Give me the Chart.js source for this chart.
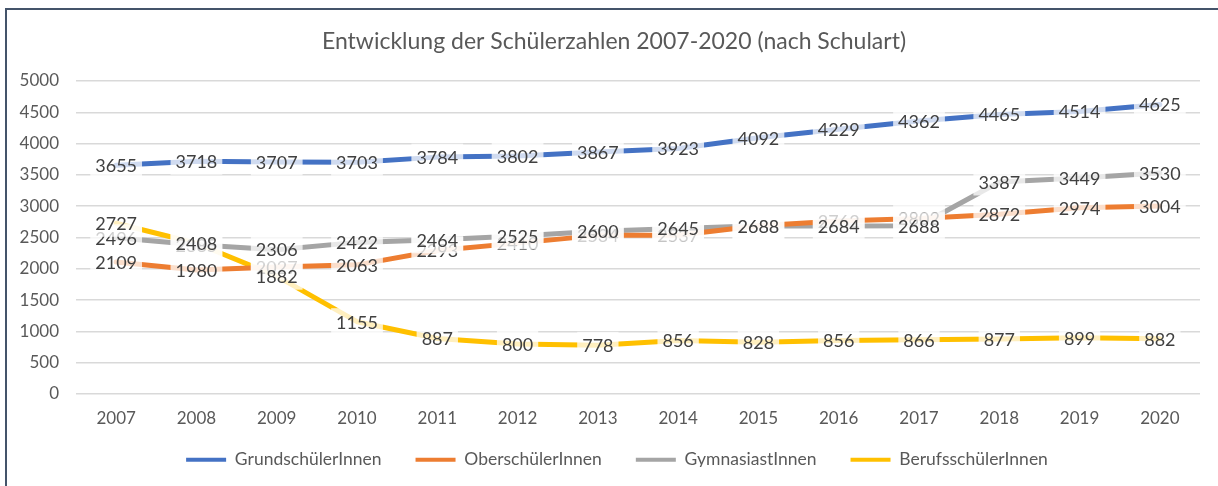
<!DOCTYPE html>
<html><head><meta charset="utf-8">
<script src="https://cdn.jsdelivr.net/npm/chart.js@4.4.1/dist/chart.umd.min.js"></script>
<style>
html,body{margin:0;padding:0;background:#fff;overflow:hidden}
#wrap{position:absolute;left:0;top:0;width:1218px;height:486px}
#frame{position:absolute;left:5px;top:8px;width:1400px;height:700px;border-left:2px solid #44546A;border-top:2px solid #44546A;pointer-events:none}
</style></head>
<body>
<div id="wrap"><canvas id="c" width="1218" height="486"></canvas></div>
<div id="frame"></div>
<script>
const years = ['2007','2008','2009','2010','2011','2012','2013','2014','2015','2016','2017','2018','2019','2020'];
const grundschueler = [3655,3718,3707,3703,3784,3802,3867,3923,4092,4229,4362,4465,4514,4625];
const oberschueler = [2109,1980,2027,2063,2293,2410,2534,2537,2688,2762,2802,2872,2974,3004];
const gymnasiasten = [2496,2385,2306,2422,2464,2525,2600,2645,2688,2684,2688,3387,3449,3530];
const berufsschueler = [2727,2408,1882,1155,887,800,778,856,828,856,866,877,899,882];
const seriesNames = ['GrundschülerInnen','OberschülerInnen','GymnasiastInnen','BerufsschülerInnen'];
const seriesColors = ['#4472C4','#ED7D31','#A5A5A5','#FFC000'];
const titleText = 'Entwicklung der Schülerzahlen 2007-2020 (nach Schulart)';
const FONT = 'Lato, "Open Sans", sans-serif';

const dataLabels = {
  id: 'dataLabels',
  afterDatasetsDraw(chart) {
    const ctx = chart.ctx;
    ctx.save();
    ctx.font = '18px ' + FONT;
    ctx.textAlign = 'center';
    ctx.textBaseline = 'middle';
    chart.data.datasets.forEach((ds, di) => {
      const meta = chart.getDatasetMeta(di);
      meta.data.forEach((pt, i) => {
        const txt = String(ds.data[i]);
        const w = ctx.measureText(txt).width + 10;
        const h = 27;
        ctx.fillStyle = 'rgba(255,255,255,0.75)';
        ctx.fillRect(pt.x - w / 2, pt.y - h / 2, w, h);
        ctx.fillStyle = '#404040';
        ctx.fillText(txt, pt.x, pt.y + 1);
      });
    });
    ctx.restore();
  }
};

// Legend: compact box height, then nudge legend and title boxes after layout
const boxTweaks = {
  id: 'boxTweaks',
  beforeLayout(chart) {
    const lg = chart.legend;
    if (lg && !lg._wrapped) {
      const f = lg.fit.bind(lg);
      lg.fit = function () { f(); this.height = 50; };
      lg._wrapped = true;
    }
  },
  afterLayout(chart) {
    const lg = chart.legend;
    if (lg) { lg.top -= 13; lg.bottom -= 13; lg.left += 17; lg.right += 17; }
    const tb = chart.titleBlock;
    if (tb) { tb.left += 14; tb.right += 14; }
  }
};

const values = [grundschueler, oberschueler, gymnasiasten, berufsschueler];
new Chart(document.getElementById('c'), {
  type: 'line',
  data: {
    labels: years,
    datasets: values.map((v, i) => ({
      label: seriesNames[i],
      data: v,
      borderColor: seriesColors[i],
      backgroundColor: seriesColors[i],
      borderWidth: 5,
      pointRadius: 0,
      tension: 0,
      fill: false,
      borderCapStyle: 'round',
      borderJoinStyle: 'round'
    }))
  },
  options: {
    responsive: false,
    animation: false,
    layout: { padding: { left: 0, right: 18, top: 0, bottom: 6 } },
    plugins: {
      title: {
        display: true,
        text: titleText,
        color: '#595959',
        font: { family: FONT, size: 23, weight: 'normal' },
        padding: { top: 28, bottom: 25.4 }
      },
      legend: {
        position: 'bottom',
        labels: {
          color: '#595959',
          font: { family: FONT, size: 17.5 },
          boxWidth: 40,
          boxHeight: 4,
          padding: 34,
          generateLabels(chart) {
            return chart.data.datasets.map((ds, i) => ({
              text: ds.label,
              fillStyle: ds.borderColor,
              strokeStyle: ds.borderColor,
              lineWidth: 0,
              datasetIndex: i,
              fontColor: '#595959'
            }));
          }
        }
      },
      tooltip: { enabled: false }
    },
    scales: {
      x: {
        offset: true,
        grid: { display: false, drawTicks: false },
        border: { display: false },
        ticks: { color: '#595959', font: { family: FONT, size: 17 }, padding: 14.5, maxRotation: 0, autoSkip: false },
        afterFit(scale) { scale.height = 36; }
      },
      y: {
        min: 0, max: 5000,
        grid: { color: '#D9D9D9', lineWidth: 1.5, drawTicks: false },
        border: { display: false },
        ticks: { stepSize: 500, color: '#595959', font: { family: FONT, size: 17 }, padding: 17,
                 callback: (v) => String(v) },
        afterFit(scale) { scale.width = 76; }
      }
    }
  },
  plugins: [boxTweaks, dataLabels]
});
</script>
</body></html>
